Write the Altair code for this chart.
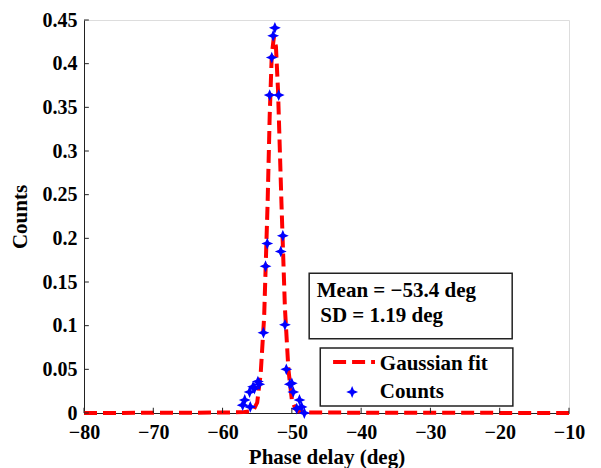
import altair as alt
import pandas as pd

# Measured counts (blue stars)
count_x = [-52.45, -52.7, -52.9, -53.2, -51.9, -51.3, -53.55, -51.6, -53.8, -51.0,
           -54.1, -50.8, -50.3, -50.0, -49.8, -54.7, -55.4, -56.1, -56.8, -57.1,
           -56.0, -48.9, -48.6, -48.2, -49.3, -54.9, -55.6]
count_y = [0.441, 0.432, 0.407, 0.364, 0.364, 0.203, 0.194, 0.185, 0.168, 0.101,
           0.092, 0.050, 0.033, 0.034, 0.024, 0.033, 0.028, 0.024, 0.015, 0.009,
           0.007, 0.015, 0.007, 0.0, 0.005, 0.036, 0.030]

# Gaussian fit curve
fit_x = [-80, -60, -57, -56, -55.5, -55, -54.5, -54, -53.5, -53.2, -52.9, -52.6,
         -52.3, -52.0, -51.5, -51.0, -50.5, -50.0, -49.5, -49.0, -48.0, -10]
fit_y = [0.0, 0.0005, 0.001, 0.002, 0.004, 0.012, 0.045, 0.11, 0.24, 0.34, 0.41, 0.43,
         0.42, 0.37, 0.24, 0.12, 0.05, 0.015, 0.005, 0.002, 0.0005, 0.0]

x_ticks = [-80, -70, -60, -50, -40, -30, -20, -10]
y_ticks = [0, 0.05, 0.1, 0.15, 0.2, 0.25, 0.3, 0.35, 0.4, 0.45]

stats_lines = ["Mean = \u221253.4 deg", "SD = 1.19 deg"]
legend_labels = ["Gaussian fit", "Counts"]

FONT = "Liberation Serif"
RED = "#FF0000"
BLUE = "#0000FF"
STAR = "M0,-1 L0.3,-0.3 L1,0 L0.3,0.3 L0,1 L-0.3,0.3 L-1,0 L-0.3,-0.3 Z"

counts = pd.DataFrame({"x": count_x, "y": count_y})
fit = pd.DataFrame({"x": fit_x, "y": fit_y})
xt = pd.DataFrame({"x": x_ticks})
yt = pd.DataFrame({"y": y_ticks})

xs = alt.Scale(domain=[-80, -10], nice=False, zero=False)
ys = alt.Scale(domain=[0, 0.45], nice=False)

xaxis = alt.Axis(values=x_ticks, format="d", ticks=False, grid=False, domainColor="#222",
                 labelFont=FONT, labelFontWeight="bold", labelFontSize=20, labelColor="black",
                 labelPadding=9, title="Phase delay (deg)", titleFont=FONT, titleFontWeight="bold",
                 titleFontSize=21, titleColor="black", titlePadding=4, labelFlush=False)
yaxis = alt.Axis(values=y_ticks, format=".2~f", ticks=False, grid=False, domainColor="#222",
                 labelFont=FONT, labelFontWeight="bold", labelFontSize=20, labelColor="black",
                 labelPadding=7, title="Counts", titleFont=FONT, titleFontWeight="bold",
                 titleFontSize=21, titleColor="black", titlePadding=12, labelFlush=False)

base_line = alt.Chart(fit).mark_line(color=RED, strokeWidth=4, strokeDash=[13, 6]).encode(
    x=alt.X("x:Q", scale=xs, axis=xaxis),
    y=alt.Y("y:Q", scale=ys, axis=yaxis),
)

pts = alt.Chart(counts).mark_point(shape=STAR, filled=True, color=BLUE, size=140, opacity=1).encode(
    x=alt.X("x:Q", scale=xs), y=alt.Y("y:Q", scale=ys)
)

xtick_rules = alt.Chart(xt).mark_rule(color="#222", strokeWidth=1).encode(
    x=alt.X("x:Q", scale=xs), y=alt.datum(0), y2=alt.datum(0.006)
)
ytick_rules = alt.Chart(yt).mark_rule(color="#222", strokeWidth=1).encode(
    y=alt.Y("y:Q", scale=ys), x=alt.datum(-80), x2=alt.datum(-79.3)
)

one = pd.DataFrame({"a": [0]})

stats_box = alt.Chart(one).mark_rect(fill="white", stroke="#222", strokeWidth=1.5).encode(
    x=alt.datum(-47.5), x2=alt.datum(-18.2), y=alt.datum(0.160), y2=alt.datum(0.085)
)
legend_box = alt.Chart(one).mark_rect(fill="white", stroke="#222", strokeWidth=1.5).encode(
    x=alt.datum(-45.9), x2=alt.datum(-18.1), y=alt.datum(0.0745), y2=alt.datum(0.008)
)

def txt(s, x, y):
    return alt.Chart(one).mark_text(text=s, font=FONT, fontWeight="bold", fontSize=21,
                                    align="left", baseline="alphabetic", color="black").encode(
        x=alt.datum(x), y=alt.datum(y))

t1 = txt(stats_lines[0], -46.4, 0.133)
t2 = txt(stats_lines[1], -45.9, 0.104)
t3 = txt(legend_labels[0], -37.3, 0.049)
t4 = txt(legend_labels[1], -37.3, 0.0172)

leg_line = alt.Chart(one).mark_rule(color=RED, strokeWidth=4, strokeDash=[13, 6]).encode(
    x=alt.datum(-44.05), x2=alt.datum(-38.0), y=alt.datum(0.0584)
)
leg_star = alt.Chart(one).mark_point(shape=STAR, filled=True, color=BLUE, size=140, opacity=1).encode(
    x=alt.datum(-41.3), y=alt.datum(0.024)
)

chart = alt.layer(
    base_line, pts, xtick_rules, ytick_rules,
    stats_box, legend_box, t1, t2, t3, t4, leg_line, leg_star
).properties(
    width=485, height=393,
    autosize=alt.AutoSizeParams(type="none"),
    padding={"left": 84, "top": 20, "right": 32, "bottom": 55},
).configure_view(stroke=None).configure(background="white")

chart.save("out.html", embed_options={"renderer": "svg", "actions": False})
